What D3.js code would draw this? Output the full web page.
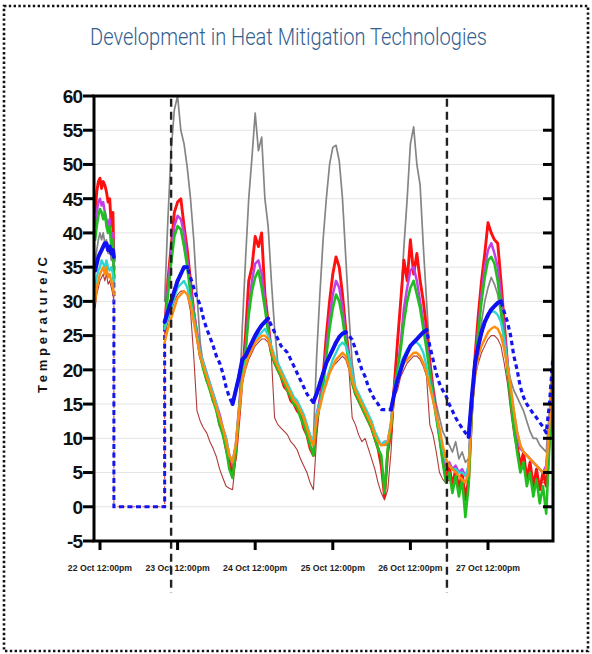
<!DOCTYPE html>
<html><head><meta charset="utf-8">
<script src="https://cdn.jsdelivr.net/npm/d3@7/dist/d3.min.js"></script>
<style>body{margin:0;background:#fff}svg{display:block}</style>
</head><body><svg id="c" width="592" height="654"></svg>
<script>
// ---------- text ----------
const title = "Development in Heat Mitigation Technologies";
const yTitle = "Temperature/C";
const yTicks = [-5, 0, 5, 10, 15, 20, 25, 30, 35, 40, 45, 50, 55, 60];
const xTickHours = [12, 36, 60, 84, 108, 132];
const xTickLabels = ["22 Oct 12:00pm", "23 Oct 12:00pm", "24 Oct 12:00pm", "25 Oct 12:00pm", "26 Oct 12:00pm", "27 Oct 12:00pm"];
// vertical dashed markers (hours since 22 Oct 00:00)
const markerHours = [34, 119.3];

// ---------- time (hours since 22 Oct 00:00) ----------
const hours = [10.5, 11, 11.5, 12, 12.5, 13, 13.5, 14, 14.5, 15, 15.5, 16, 16.3,
  32, 33, 34, 35, 36, 37, 38, 39, 40, 41, 42, 43, 44, 45, 46, 47, 48, 49, 50, 51, 52, 53, 54, 55,
  56, 57, 58, 59, 60, 61, 62, 63, 64, 65, 66, 67, 68, 69, 70, 71, 72, 73, 74, 75, 76, 77, 78, 79,
  80, 81, 82, 83, 84, 85, 86, 87, 88, 89, 90, 91, 92, 93, 94, 95, 96, 97, 98, 99, 100, 101, 102, 103,
  104, 105, 106, 107, 108, 109, 110, 111, 112, 113, 114, 115, 116, 117, 118, 119, 120, 121, 122, 123, 124, 125, 126, 127,
  128, 129, 130, 131, 132, 133, 134, 135, 136, 137, 138, 139, 140, 141, 142, 143, 144, 145, 146, 147, 148, 149, 150, 151, 152];

// ---------- series (°C) ----------
const grayS = [36, 37.5, 39, 40, 39, 40, 38.5, 39, 37, 38, 36, 37, 32,
  30, 42, 52, 58, 60, 55, 53, 49.5, 45, 39, 31, 24, 20.5, 19, 17.5, 16, 14.5, 13, 11, 9.5, 7, 6, 9, 14,
  26, 36, 45, 51, 57.5, 52, 54, 45, 41, 33, 26, 21, 19.5, 18.5, 17.5, 16.5, 15.5, 15, 14, 13, 11.5, 10, 10, 22,
  31, 39, 45, 50, 52.5, 52.8, 50.5, 45, 36.5, 28, 21, 17.5, 16, 15, 14, 13, 12, 10.5, 9.5, 9, 9, 9, 12, 18,
  24, 30, 38, 45, 53, 55.5, 50, 47, 38, 30, 22, 18, 15, 13, 11, 10, 9, 8, 9.5, 7, 8, 6.5, 7, 15,
  20, 24, 27, 30, 32, 33.5, 32.5, 31, 28, 24, 21, 18.5, 17, 16, 15, 14, 12.5, 11, 10, 10, 9, 8.5, 8, 14, 23];

const redS = [43, 46, 47.5, 48, 46.5, 47.5, 47, 46, 44.5, 45, 41, 43, 36,
  26, 33, 38, 43, 44.5, 45, 41, 37.5, 33, 28.5, 25, 22, 20.5, 18.5, 17.5, 15.5, 14.5, 12, 11, 8.5, 6.5, 4.8, 7.5, 13,
  19, 25, 33, 35, 39.5, 38, 40, 31, 27, 22.5, 21, 20, 19, 17.5, 17, 15.5, 15, 14, 13.5, 11.5, 10.5, 8.5, 7.5, 12.5,
  15.5, 19, 25, 30, 34, 36.5, 35, 31, 26, 22, 18.5, 16.5, 15.5, 14.5, 13.5, 12.5, 11.5, 10, 8.5, 6, 1.5, 8, 11, 17.5,
  24, 30, 36, 33, 39, 34, 37, 33, 30, 26, 21, 17, 13.5, 10.5, 7, 4, 6, 3, 5.5, 2.5, 5, 1, 4, 14,
  22, 28, 33, 37, 41.5, 40, 39, 38.5, 33, 27, 21, 16, 12, 9, 6, 8, 4, 6.5, 3, 5.5, 2.5, 5, 3, 10, 18];

const magentaS = [41, 43, 44.5, 45, 44, 44.5, 43, 42, 41, 42, 39, 40, 34,
  26, 32, 37, 41, 42.5, 42, 40, 36, 32, 28.5, 25.5, 22.5, 21, 19.5, 18, 16.5, 15, 13.5, 11.5, 10, 7.5, 6.5, 9, 14.5,
  19.5, 23, 29, 33, 35.5, 36, 34, 30, 26, 23, 21.5, 20.5, 19.5, 18.5, 17.5, 16.5, 15.5, 15, 14, 13, 11.5, 10, 9, 13.5,
  15.5, 18, 23, 27.5, 31, 33, 32, 29, 25, 21.5, 18.5, 17, 16, 15, 14, 13, 12, 10.5, 9.5, 9, 9.5, 9.5, 12, 17.5,
  20, 24, 29, 32, 34.5, 35, 33, 30, 27, 24, 20, 16.5, 13.5, 11, 8, 6, 6.5, 5.5, 6, 5, 5.5, 4.5, 5.5, 15,
  21, 26, 31, 35, 37.5, 38.5, 37, 35, 31, 26, 21, 16.5, 12.5, 10, 8.5, 8, 7.5, 7, 6.5, 6, 5.5, 5, 6, 12, 19];

const greenS = [39, 41, 42.5, 43.5, 43, 42, 43, 41, 40, 41, 38, 39, 33,
  26, 31, 35.5, 39.5, 41, 40.5, 38, 35, 31, 28, 25, 22, 20, 18.5, 17, 15.5, 14, 12, 10.5, 8.5, 5.5, 4.2, 8, 14,
  19, 22.5, 28, 31.5, 33.5, 34.5, 32, 29, 25.5, 22.5, 21, 20, 19, 18, 17, 16, 15, 14.5, 13, 12, 10.5, 9, 7.5, 12.5,
  15, 17.5, 22, 26, 29, 31, 30, 27.5, 24, 21, 18, 16.5, 15.5, 14.5, 13.5, 12.5, 11.5, 10, 8.5, 7.5, 2, 8.5, 11.5, 17,
  20, 23, 27, 30, 32, 33, 31, 29, 26, 23, 19.5, 16, 13, 10, 6.5, 3.5, 5, 2, 4.5, 1.5, 4, -1.5, 3, 14,
  20.5, 25.5, 30, 33.5, 36, 36.5, 35.5, 33, 29, 24.5, 20, 15.5, 11.5, 8, 5, 6.5, 3, 5, 1.5, 4, 0.5, 3, -1, 9, 17];

const cyanS = [32, 33.5, 34.5, 35, 36, 35.5, 35, 36, 35, 34.5, 35, 34, 33,
  26, 27.5, 29, 30.5, 32, 32.5, 33, 32, 30, 27.5, 25, 22.5, 21, 19.5, 18, 16.5, 15, 13, 11.5, 10, 7.5, 6.5, 9, 14,
  18.5, 21, 22.5, 23.5, 24.5, 25, 25.5, 26, 25, 23.5, 22, 21, 20, 19, 18, 17, 16, 15.5, 14.5, 13.5, 12, 10.5, 9.5, 13.5,
  15, 17, 18.5, 20, 21.5, 22.5, 23.5, 24, 23.5, 22, 19.5, 17.5, 16.5, 15.5, 14.5, 13.5, 12.5, 11, 10, 9, 9.5, 9.5, 12.5, 17,
  19, 21, 22, 23, 23.5, 24, 24, 23.5, 22.5, 20.5, 18, 16, 13.5, 11, 8.5, 6.5, 6, 5.5, 5.5, 5, 5, 4.5, 6, 15,
  20.5, 23.5, 25.5, 27, 28, 28.5, 28.5, 28, 27, 24.5, 21, 17.5, 14, 11, 9, 8, 7.5, 7, 6.5, 6, 5.5, 5, 5.5, 12, 19];

const orangeS = [30, 32, 33, 34, 34.5, 35, 34, 35, 33.5, 34, 33, 32, 31,
  24, 26, 27.5, 29, 30.5, 31, 31.5, 31, 29.5, 27, 24.5, 22, 20.5, 19, 17.5, 16, 14.5, 13, 11.5, 9.5, 7.5, 6.5, 9, 14,
  18.5, 20.5, 22, 23, 24, 24.5, 25, 25, 24.5, 23, 21.5, 20.5, 19.5, 18.5, 17.5, 16.5, 15.5, 15, 14, 13, 11.5, 10, 9, 13,
  14.5, 16.5, 18, 19.5, 20.5, 21.5, 22, 22.5, 22, 20.5, 18.5, 17, 16, 15, 14, 13, 12, 10.5, 9.5, 9, 9, 9.5, 12, 16.5,
  18.5, 20, 21, 21.5, 22, 22.5, 22.5, 22, 21, 19.5, 17.5, 15.5, 13.5, 11.5, 9, 7, 6, 5.5, 5, 4.5, 4, 3.5, 5, 14.5,
  19, 22, 23.5, 24.5, 25.5, 26, 26.3, 26, 25, 23, 20.5, 17.5, 14, 11, 9, 8, 7.5, 7, 6.5, 6, 5.5, 5, 5.5, 12, 20];

const darkRedS = [29, 31, 32, 33, 33.5, 34, 33, 34, 32.5, 33, 32, 31, 30,
  25, 27, 28.5, 30, 31, 31.5, 31.5, 31, 28.5, 22, 14, 12.5, 11.5, 10.8, 9.5, 8.5, 7.3, 5.5, 4.2, 3, 2.7, 2.5, 7, 15,
  18, 20, 21.5, 22.5, 23.5, 24, 24.5, 24.5, 24, 22, 13, 12, 11.5, 11, 10.5, 9.5, 9, 8.3, 7, 6, 5, 3.5, 2.5, 10,
  15, 16.5, 18, 19.5, 20.5, 21, 21.5, 22, 21.5, 20, 13, 12, 10.5, 9.5, 10, 8.5, 7, 5.5, 3.5, 2, 1, 2.5, 8, 16,
  17, 19, 20, 21, 21.5, 22, 22, 21.5, 20.5, 19, 12, 10.5, 8, 5, 4, 3.5, 4, 3.5, 4, 3, 4, 2.5, 3.5, 13,
  19, 21, 22.5, 23.5, 24.5, 25, 25, 24.5, 23.5, 21, 18, 14, 10.5, 8, 6, 5.5, 5, 4.5, 4, 4, 3.5, 3.5, 3.5, 10, 18];

// blue: dashed trend line and solid (rising) sensor trace
const blueTrend = [null, null, null, null, null, null, null, null, null, null, null, null, null,
  27, 28.5, 30, 31.5, 33, 34, 35, 35, 33.5, 32, 30.5, 29.5, 27.5, 26, 24.8, 23.5, 22, 21, 19.5, 17.5, 16, 15, 17, 19,
  21.5, 22, 23, 24, 25, 25.8, 26.5, 27, 27.5, 26.5, 25.5, 24.5, 23.5, 23, 22.5, 21.5, 20.5, 19.5, 18.5, 17.5, 16.5, 15.8, 15.3, 16.5,
  18, 19.5, 21, 22, 23, 24, 24.8, 25.3, 25.5, 25, 24.4, 23, 21.5, 20, 19, 17.5, 16.5, 15.6, 15, 14.2, 14.2, 14.2, 14.2, 16.5,
  18.5, 20, 21.5, 22.5, 23.5, 24, 24.5, 25, 25.5, 25.8, 23.5, 21.5, 19.5, 18, 17, 16.2, 15, 14, 13, 12.2, 11.5, 10.8, 10.2, 16,
  21, 23.5, 25.5, 27, 28, 28.8, 29.3, 29.8, 30, 28.5, 27, 25, 22, 20, 17.5, 16, 15, 14.3, 13.6, 13, 12.3, 11.7, 10.8, 15, 21.5];

const blueSensor = [34.5, 35.5, 36.5, 37, 37.5, 38, 38.5, 38.5, 37.5, 38, 37, 37.5, 36.5,
  27, 28.5, 30, 31.5, 33, 34, 35, 35, null, null, null, null, null, null, null, null, null, null, null, null, null, 15, 17, 19,
  21.5, 22, 23, 24, 25, 25.8, 26.5, 27, 27.5, null, null, null, null, null, null, null, null, null, null, null, null, null, 15.3, 16.5,
  18, 19.5, 21, 22, 23, 24, 24.8, 25.3, 25.5, null, null, null, null, null, null, null, null, null, null, null, null, null, 14.2, 16.5,
  18.5, 20, 21.5, 22.5, 23.5, 24, 24.5, 25, 25.5, 25.8, null, null, null, null, null, null, null, null, null, null, null, null, 10.2, 16,
  21, 23.5, 25.5, 27, 28, 28.8, 29.3, 29.8, 30, null, null, null, null, null, null, null, null, null, null, null, null, null, null, null, null, null];

// dashed connectors across the logger gap
const gapHours = [16.3, 16.3, 32, 32];
const gapBlue = [36.5, 0, 0, 27];
const gapRed = [36, 0, 0, 26];

// ---------- layout ----------
const L = 94, R = 553, T = 96, B = 541;
const svg = d3.select("#c");
const x = d3.scaleLinear().domain([10.15, 152.1]).range([L, R]);
const y = d3.scaleLinear().domain([-5, 60]).range([B, T]);

// outer dotted frame
svg.append("rect").attr("x", 4).attr("y", 6).attr("width", 584).attr("height", 645)
  .attr("fill", "none").attr("stroke", "#111").attr("stroke-width", 2.6).attr("stroke-dasharray", "2.4,2.4");

// title
svg.append("text").attr("x", 288.5).attr("y", 45).attr("text-anchor", "middle")
  .attr("font-family", "Roboto, 'Liberation Sans', sans-serif").attr("font-weight", 300)
  .attr("font-size", 23).attr("fill", "#33608f")
  .attr("textLength", 397).attr("lengthAdjust", "spacingAndGlyphs").text(title);

// gridlines
svg.append("g").selectAll("line").data(yTicks.filter(v => v > -5 && v < 60)).join("line")
  .attr("x1", L).attr("x2", R).attr("y1", d => y(d)).attr("y2", d => y(d))
  .attr("stroke", "#e4e4e4").attr("stroke-width", 1);

// clip
svg.append("clipPath").attr("id", "plot").append("rect")
  .attr("x", L).attr("y", T).attr("width", R - L).attr("height", B - T);
const gData = svg.append("g").attr("clip-path", "url(#plot)");

function segments(vals) {
  const segs = []; let cur = [];
  for (let i = 0; i < hours.length; i++) {
    if (i > 0 && hours[i] - hours[i - 1] > 3) { segs.push(cur); cur = []; }
    cur.push([hours[i], vals[i]]);
  }
  segs.push(cur);
  return segs;
}
const line = d3.line().defined(d => d[1] !== null).x(d => x(d[0])).y(d => y(d[1]));

function drawSeries(vals, color, width, dash) {
  segments(vals).forEach(seg => {
    const p = gData.append("path").datum(seg).attr("d", line)
      .attr("fill", "none").attr("stroke", color).attr("stroke-width", width)
      .attr("stroke-linejoin", "round").attr("stroke-linecap", "round");
    if (dash) p.attr("stroke-dasharray", dash).attr("stroke-linecap", "butt");
  });
}

// gap connectors
const gapLine = d3.line().x((d, i) => x(gapHours[i])).y(d => y(d));
gData.append("path").attr("d", gapLine(gapRed)).attr("fill", "none")
  .attr("stroke", "#d9534f").attr("stroke-width", 1.2).attr("stroke-dasharray", "3,2");
gData.append("path").attr("d", gapLine(gapBlue)).attr("fill", "none")
  .attr("stroke", "#1515ee").attr("stroke-width", 3).attr("stroke-dasharray", "5,3.5");

drawSeries(darkRedS, "#b03a3a", 1.1);
drawSeries(grayS, "#858585", 1.7);
drawSeries(redS, "#ff1010", 2.9);
drawSeries(magentaS, "#c040e8", 2.5);
drawSeries(greenS, "#1fbf1f", 2.6);
drawSeries(cyanS, "#2ed6d2", 2.3);
drawSeries(orangeS, "#ff8c0a", 2.4);
drawSeries(blueTrend, "#1515ee", 3.2, "4.5,3.5");
drawSeries(blueSensor, "#1010f0", 4);

// vertical dashed markers
svg.append("g").selectAll("line").data(markerHours).join("line")
  .attr("x1", d => x(d)).attr("x2", d => x(d)).attr("y1", y(59.6)).attr("y2", B + 52)
  .attr("stroke", "#222").attr("stroke-width", 2.4).attr("stroke-dasharray", "8,5");

// frame
svg.append("rect").attr("x", L).attr("y", T).attr("width", R - L).attr("height", B - T)
  .attr("fill", "none").attr("stroke", "#000").attr("stroke-width", 3);

// left axis ticks + labels
const gY = svg.append("g");
gY.selectAll("line").data(yTicks).join("line")
  .attr("x1", L - 11).attr("x2", L).attr("y1", d => y(d)).attr("y2", d => y(d))
  .attr("stroke", "#000").attr("stroke-width", 3);
gY.selectAll("text").data(yTicks).join("text")
  .attr("x", L - 12).attr("y", d => y(d)).attr("dy", "0.36em").attr("text-anchor", "end")
  .attr("font-family", "'Liberation Sans', Arial, sans-serif").attr("font-weight", "bold")
  .attr("font-size", 19).attr("fill", "#111").attr("letter-spacing", -1)
  .text(d => d);
// right axis ticks (inward)
svg.append("g").selectAll("line").data(yTicks.filter(v => v > -5 && v < 60)).join("line")
  .attr("x1", R - 10).attr("x2", R).attr("y1", d => y(d)).attr("y2", d => y(d))
  .attr("stroke", "#000").attr("stroke-width", 3);

// bottom axis ticks + labels
const gX = svg.append("g");
gX.selectAll("line").data(xTickHours).join("line")
  .attr("x1", d => x(d)).attr("x2", d => x(d)).attr("y1", B).attr("y2", B + 9)
  .attr("stroke", "#000").attr("stroke-width", 3);
gX.selectAll("text").data(xTickHours).join("text")
  .attr("x", d => x(d)).attr("y", B + 30).attr("text-anchor", "middle")
  .attr("font-family", "'Liberation Sans', Arial, sans-serif").attr("font-weight", "bold")
  .attr("font-size", 8.7).attr("fill", "#222")
  .text((d, i) => xTickLabels[i]);

// y title
svg.append("text").attr("transform", `translate(47,325) rotate(-90)`)
  .attr("text-anchor", "middle")
  .attr("font-family", "'Liberation Sans', Arial, sans-serif").attr("font-weight", "bold")
  .attr("font-size", 13).attr("fill", "#111")
  .attr("textLength", 136).attr("lengthAdjust", "spacing")
  .text(yTitle);
</script></body></html>
